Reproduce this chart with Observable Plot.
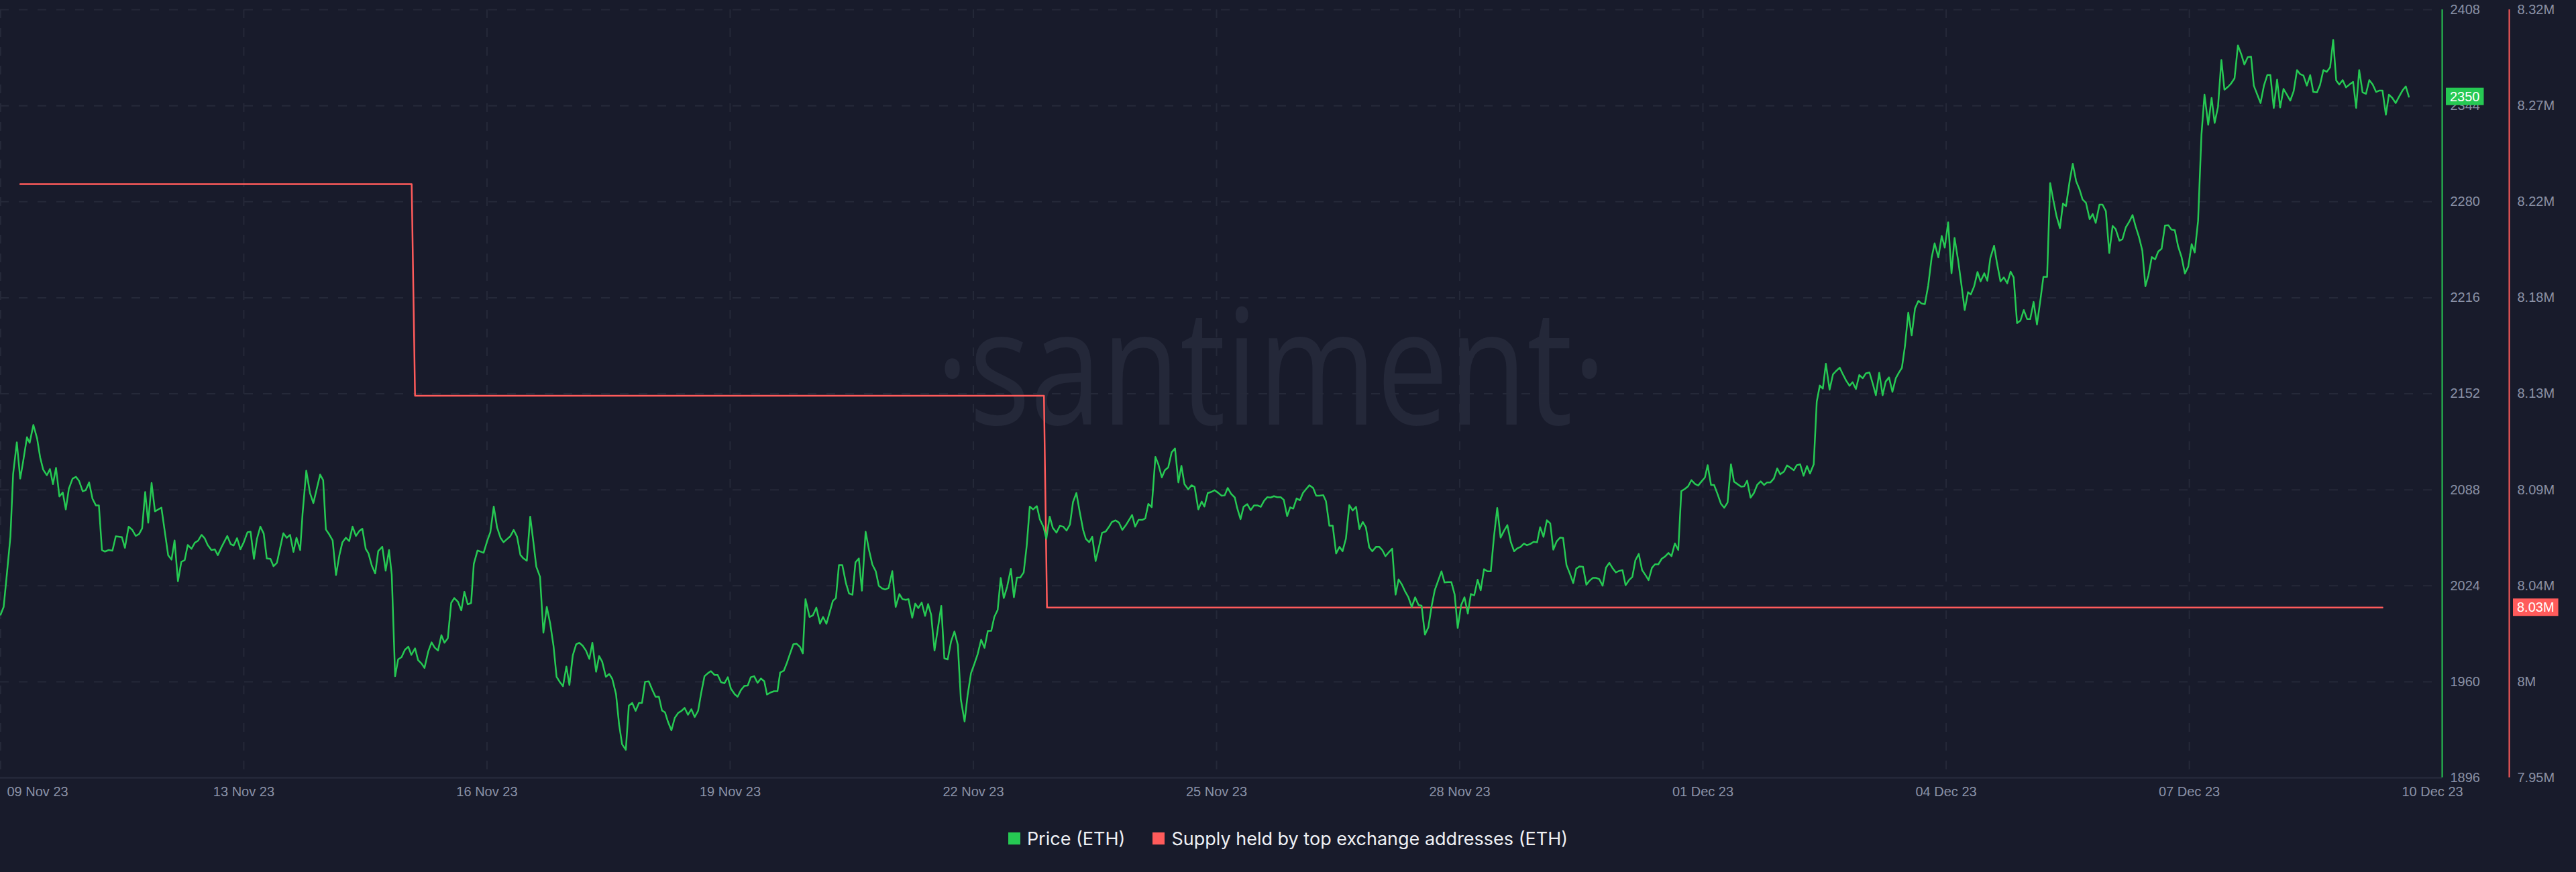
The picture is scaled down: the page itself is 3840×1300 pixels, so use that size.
<!DOCTYPE html>
<html><head><meta charset="utf-8">
<script src="https://cdn.jsdelivr.net/npm/d3@7"></script>
<script src="https://cdn.jsdelivr.net/npm/@observablehq/plot@0.6"></script>
<style>
html,body{margin:0;padding:0;background:#181b2b;}
#chart{width:3840px;height:1210px;}
#legend{display:flex;justify-content:center;align-items:center;height:80px;font-family:Inter,"Noto Sans",sans-serif;font-size:27px;color:#eef0f4;}
.item{display:flex;align-items:center;}
.item + .item{margin-left:41px;}
.sw{width:18px;height:18px;margin-right:10px;}
</style></head><body>
<div id="chart"></div><div id="legend"></div>
<script>
// ---- data ----
const startDate = Date.UTC(2023, 10, 10, 0, 0); // hour 0
const xDomain = ["2023-11-09T23:55Z", "2023-12-10T02:52Z"];
const priceDomain = [1896, 2408];
const supplyDomain = [7.95e6, 8.32e6];

const priceTicks = [1896, 1960, 2024, 2088, 2152, 2216, 2280, 2344, 2408];
const supplyTicks = [7.95e6, 7.99625e6, 8.0425e6, 8.08875e6, 8.135e6, 8.18125e6, 8.2275e6, 8.27375e6, 8.32e6];
const supplyLabels = ["7.95M", "8M", "8.04M", "8.09M", "8.13M", "8.18M", "8.22M", "8.27M", "8.32M"];

const dateTicks = ["2023-11-10", "2023-11-13", "2023-11-16", "2023-11-19", "2023-11-22", "2023-11-25", "2023-11-28", "2023-12-01", "2023-12-04", "2023-12-07", "2023-12-10"];
const dateLabels = ["09 Nov 23", "13 Nov 23", "16 Nov 23", "19 Nov 23", "22 Nov 23", "25 Nov 23", "28 Nov 23", "01 Dec 23", "04 Dec 23", "07 Dec 23", "10 Dec 23"];
const gridDates = ["2023-11-10", "2023-11-13", "2023-11-16", "2023-11-19", "2023-11-22", "2023-11-25", "2023-11-28", "2023-12-01", "2023-12-04", "2023-12-07"];

const priceHour = [
0,0.9,1.9,2.9,3.7,4.8,5.8,6.6,7.8,8.6,9.7,10.8,11.7,12.6,13.7,14.6,15.5,16.4,17.4,18.4,19.3,20.2,21.3,22.3,23.2,24.3,25.2,26.2,27.2,28.2,29.1,
30.0,30.9,32.0,33.1,34.1,35.9,36.8,37.9,39.0,40.0,41.0,41.9,42.8,43.7,44.7,45.7,47.6,49.6,50.6,51.5,52.5,53.5,54.5,55.4,56.5,57.5,58.5,59.5,
60.4,61.3,62.4,63.4,64.3,65.3,67.1,68.1,69.0,70.0,71.0,72.0,73.1,74.0,75.0,75.9,76.9,77.9,78.8,79.9,80.8,81.8,83.7,84.7,85.7,86.7,87.6,88.7,89.4,
90.5,91.6,92.6,94.6,95.5,96.3,97.3,98.3,99.3,100.3,101.2,102.2,103.2,104.2,105.2,106.2,107.1,108.1,108.9,109.9,110.9,111.8,113.0,114.0,115.0,115.8,
116.8,117.7,118.7,119.7,120.7,121.6,122.7,
123.6,124.6,125.5,126.6,127.6,128.5,129.5,130.5,131.4,132.4,133.4,134.3,135.4,136.4,137.3,138.3,139.3,140.1,141.2,143.0,144.1,145.0,146.0,147.0,148.0,
148.9,149.9,150.9,151.9,152.9,153.9,154.8,155.8,156.8,157.7,158.6,159.7,160.7,161.7,162.7,163.7,164.6,165.6,166.5,167.5,168.4,169.4,170.4,171.3,172.3,
173.3,174.3,175.2,176.3,177.2,178.1,179.2,180.2,181.1,182.2,183.1,184.0,185.1,186.0,187.0,188.0,189.0,189.9,190.8,191.9,192.9,193.9,194.9,195.8,196.7,
197.6,198.6,199.6,200.6,201.6,202.5,203.5,204.5,205.5,206.5,207.4,208.4,209.4,210.3,211.4,212.3,213.3,214.3,215.3,216.2,217.3,218.2,219.2,220.2,221.2,
222.1,223.1,224.1,225.1,226.1,226.9,228.0,229.0,230.0,230.8,231.9,232.8,233.7,234.7,235.7,236.7,237.5,
238.3,239.5,240.5,241.5,242.6,243.5,244.5,246.4,247.3,248.2,249.2,250.3,251.2,252.2,253.1,254.1,255.0,256.1,257.1,258.1,259.1,260.0,261.0,261.9,262.9,
264.0,265.0,266.1,267.0,268.0,268.8,269.9,270.8,271.7,272.7,273.7,274.6,275.5,276.5,277.5,278.5,279.4,280.4,281.4,282.4,283.4,284.3,285.4,286.3,287.3,
288.3,289.3,290.3,291.3,292.3,293.3,294.2,295.2,296.1,297.0,298.0,299.1,300.0,300.9,301.9,302.9,303.8,304.7,305.7,306.8,307.7,308.8,309.6,310.6,311.5,
312.6,313.6,314.6,315.6,316.6,317.5,318.5,319.5,320.5,321.3,322.3,323.2,324.2,325.2,326.1,327.2,328.1,329.0,330.1,331.1,332.1,333.1,334.1,335.0,335.9,
336.9,338.0,338.9,339.8,340.8,341.9,342.8,343.8,344.7,345.7,346.7,347.7,348.7,349.6,350.5,351.6,352.6,353.5,354.6,355.6,356.4,357.4,358.4,359.4,360.4,
361.5,362.4,363.3,364.3,365.4,
366.1,367.1,368.0,369.1,370.1,371.1,372.1,373.1,374.1,375.0,376.0,377.0,378.0,379.0,379.9,380.9,381.8,382.7,383.7,384.7,385.6,386.5,387.5,388.6,389.5,
390.4,391.6,392.4,393.4,394.4,395.4,396.4,397.3,398.3,399.3,400.3,401.3,402.3,403.3,404.2,405.2,406.1,407.2,408.2,409.1,410.0,411.0,412.0,413.0,413.9,
414.9,415.9,416.8,417.8,418.8,419.8,420.7,421.7,422.7,423.7,424.6,425.6,426.6,427.5,428.5,429.5,430.5,431.4,432.4,433.4,434.4,435.3,436.3,437.3,438.2,
439.2,440.2,441.2,442.1,443.1,444.1,445.1,446.1,447.1,448.1,449.0,450.0,451.0,451.9,452.9,453.9,454.9,455.8,456.8,457.8,458.8,459.7,460.7,461.7,462.6,
463.6,464.6,465.6,466.5,467.5,468.5,469.5,470.4,471.4,472.4,473.3,474.3,475.3,476.3,477.2,478.2,479.2,480.2,481.1,482.1,483.1,484.0,485.0,486.0,487.0,487.9,
488.9,489.8,490.8,491.8,492.8,493.8,494.7,495.7,496.7,497.6,498.7,499.6,500.6,501.7,502.6,503.6,504.6,505.4,506.4,507.3,508.3,509.3,510.3,511.3,512.3,
513.2,514.2,515.3,516.2,517.1,518.1,519.1,520.1,521.1,522.1,523.0,524.0,525.0,526.0,526.9,528.0,528.9,529.9,530.9,531.8,532.8,533.8,534.8,535.7,536.8,
537.7,538.6,539.5,540.4,541.5,542.5,543.4,544.5,545.4,546.4,547.4,548.3,549.3,550.3,551.3,552.2,553.3,554.3,555.2,556.2,557.2,558.1,559.1,560.1,561.1,
562.0,562.9,563.8,564.8,565.8,566.8,567.8,568.7,569.7,570.7,571.7,572.6,573.7,574.7,575.6,576.6,577.6,578.5,579.6,580.5,581.5,582.5,583.3,584.3,585.3,
586.2,587.3,588.2,589.1,590.2,591.1,592.1,593.1,594.1,595.1,596.0,597.0,598.0,599.0,600.0,600.9,601.9,602.9,603.9,604.8,605.9,606.8,607.7,
608.7,609.7,610.6,611.5,612.6,613.5,614.5,615.5,616.4,617.4,618.5,619.4,620.3,621.4,622.3,623.3,624.3,625.3,626.2,627.3,628.2,629.2,630.2,631.2,632.1,
633.1,634.1,635.0,635.9,636.9,637.9,638.8,639.8,640.8,641.8,642.7,643.7,644.7,645.7,646.7,647.7,648.7,649.6,650.6,651.6,652.5,653.6,654.6,655.5,656.5,
657.5,658.4,659.5,660.4,661.4,662.4,663.4,664.3,665.3,666.3,667.1,668.2,669.1,670.1,671.1,672.0,673.0,674.0,674.9,675.9,676.9,677.9,678.9,679.9,680.8,
681.8,682.8,683.8,684.7,685.8,686.7,687.7,688.7,689.7,690.6,691.5,692.4,693.4,694.4,695.4,696.5,697.4,698.3,699.3,700.3,701.3,702.3,703.3,704.2,705.2,
706.2,707.1,708.1,709.1,710.1,711.1,712.1,713.0
];
const priceValue = [
2004.7,2009.9,2032.9,2056.7,2098.4,2119.6,2095.4,2105.9,2123.0,2119.3,2131.2,2122.2,2109.6,2101.4,2097.7,2101.8,2091.7,2102.6,2083.5,2086.2,2074.9,2088.7,2095.4,2096.6,2094.0,2087.0,2087.7,2092.9,2082.0,2077.6,2077.6,
2047.8,2046.8,2047.8,2047.4,2057.0,2056.4,2049.3,2063.4,2061.2,2057.2,2058.5,2062.3,2086.5,2066.0,2092.5,2073.6,2076.1,2044.4,2041.4,2054.2,2027.0,2039.9,2041.1,2051.2,2048.6,2052.7,2054.1,2057.9,
2055.7,2051.2,2047.8,2048.3,2044.4,2049.3,2057.2,2051.8,2050.8,2055.7,2048.3,2053.0,2059.7,2060.0,2041.9,2055.3,2063.4,2058.7,2042.2,2041.9,2037.0,2039.3,2059.0,2056.0,2057.9,2046.6,2056.0,2047.8,2072.1,
2100.7,2085.8,2079.1,2098.1,2094.4,2061.5,2058.2,2054.2,2031.1,2044.4,2053.0,2056.0,2053.8,2063.4,2057.2,2060.5,2062.0,2048.6,2045.6,2037.4,2032.2,2047.1,2050.0,2034.1,2047.8,2031.4,
1963.7,1974.9,1976.4,1981.3,1983.4,1977.9,1982.3,
1974.4,1972.2,1969.2,1980.1,1986.3,1982.8,1980.8,1991.0,1986.0,1989.0,2012.5,2015.8,2013.3,2007.6,2020.0,2011.6,2012.5,2038.6,2047.5,2046.0,2054.1,2059.7,2076.8,2062.7,2056.0,
2053.0,2055.0,2057.0,2061.2,2056.7,2044.5,2042.2,2040.7,2070.1,2053.8,2036.7,2030.0,1992.7,2009.9,1999.0,1983.8,1963.3,1959.7,1957.0,1970.1,1957.8,1977.6,1984.9,1986.0,1984.1,
1980.8,1975.2,1986.0,1966.7,1977.1,1973.4,1963.3,1965.2,1961.9,1951.8,1931.7,1918.3,1914.6,1944.1,1945.9,1940.6,1945.9,1945.9,1960.0,1960.3,1954.8,1950.0,1950.0,1940.9,1939.6,
1933.2,1927.6,1935.9,1939.2,1940.6,1942.6,1938.0,1941.7,1936.5,1940.6,1952.3,1963.7,1965.7,1967.1,1964.5,1964.5,1959.7,1959.0,1963.0,1955.5,1951.8,1950.0,1954.5,1957.3,1957.5,
1963.0,1963.7,1959.3,1962.2,1960.3,1951.5,1952.9,1953.7,1953.7,1966.2,1967.4,1972.6,1978.6,1985.0,1985.3,1983.1,1978.9,
2015.1,2003.2,2004.3,2009.4,1998.7,2003.2,1998.7,2013.9,2015.8,2037.7,2037.7,2025.5,2018.8,2018.0,2039.6,2042.2,2020.7,2060.0,2047.8,2038.1,2033.7,2024.0,2022.2,2021.5,2022.5,
2033.7,2009.9,2018.5,2015.1,2014.6,2015.1,2002.7,2012.1,2009.1,2012.8,2003.9,2011.8,2004.7,1980.8,1995.7,2010.6,1975.6,1974.9,1986.8,1993.5,1984.6,1948.1,1933.5,1951.1,1965.7,
1971.9,1978.6,1988.0,1982.6,1993.9,1993.9,2003.2,2007.9,2029.2,2015.8,2023.3,2035.2,2016.3,2029.5,2029.5,2032.9,2050.8,2076.8,2074.9,2077.1,2068.2,2063.0,2055.3,2070.1,2062.7,
2059.4,2063.9,2063.4,2060.8,2064.9,2079.8,2085.8,2073.1,2061.2,2055.3,2053.0,2056.7,2040.4,2050.0,2059.3,2060.2,2063.1,2066.4,2067.6,2066.1,2061.2,2064.2,2067.9,2071.2,2063.4,
2067.9,2067.9,2068.9,2078.6,2076.4,2109.9,2104.7,2096.2,2101.0,2102.9,2112.9,2115.5,2092.9,2103.9,2091.7,2088.3,2091.0,2089.9,2074.9,2080.1,2076.8,2085.8,2086.5,2087.7,2086.1,
2084.0,2084.3,2089.2,2085.3,2082.8,
2075.9,2068.4,2076.6,2078.4,2074.4,2077.6,2077.6,2076.6,2080.7,2083.0,2082.8,2083.7,2083.0,2083.0,2081.3,2070.4,2076.3,2075.4,2082.2,2081.0,2085.9,2088.4,2091.0,2089.2,2084.0,
2084.0,2084.4,2080.3,2064.0,2064.0,2045.5,2049.9,2047.0,2055.4,2077.8,2074.1,2076.6,2061.8,2066.5,2063.0,2049.6,2047.0,2049.9,2049.9,2047.7,2043.7,2046.3,2048.7,2018.1,2028.2,
2024.7,2019.9,2016.3,2009.9,2016.3,2011.1,2010.7,1991.4,1996.3,2010.7,2021.0,2027.3,2033.6,2026.2,2026.5,2026.5,2018.1,1995.8,2011.0,2016.3,2005.5,2018.5,2017.6,2028.0,2021.0,
2035.1,2033.6,2033.6,2055.9,2075.9,2056.1,2060.6,2064.4,2053.3,2047.0,2048.9,2049.9,2052.1,2051.0,2051.9,2053.3,2052.9,2063.0,2056.6,2067.7,2065.5,2048.0,2053.6,2056.1,2055.9,
2037.8,2032.1,2025.8,2035.4,2036.9,2036.6,2024.7,2027.3,2029.2,2029.2,2028.4,2024.0,2036.1,2039.3,2035.9,2032.9,2033.9,2034.4,2024.3,2027.7,2029.9,2041.0,2045.2,2034.4,2031.1,2027.7,
2035.9,2038.3,2038.3,2042.0,2043.5,2045.9,2043.7,2052.2,2047.8,2087.1,2088.6,2090.3,2094.4,2091.8,2090.8,2093.6,2096.2,2104.4,2091.2,2091.2,2085.3,2078.8,2076.0,2079.5,2104.9,
2093.4,2091.8,2090.1,2090.3,2094.0,2082.7,2085.8,2091.4,2093.6,2091.2,2092.9,2092.9,2095.5,2102.2,2098.3,2100.1,2104.2,2102.7,2101.0,2104.4,2104.9,2097.3,2103.8,2098.8,2104.9,
2146.7,2157.5,2155.4,2172.0,2154.7,2164.9,2167.1,2169.4,2165.1,2160.8,2157.3,2159.7,2155.1,2164.5,2162.3,2165.5,2166.2,2158.6,2151.0,2166.0,2151.0,2160.1,2162.9,2153.2,2162.3,
2166.0,2169.2,2183.5,2206.1,2190.9,2208.9,2213.9,2212.2,2211.7,2224.1,2242.5,2252.3,2242.9,2257.2,2249.4,2266.3,2232.3,2255.9,2240.3,2225.2,2207.8,2219.7,2218.2,2223.6,2233.2,
2226.9,2232.3,2227.3,2242.5,2250.7,2238.6,2226.9,2229.5,2225.6,2233.4,2229.5,2199.1,2200.7,2207.8,2201.7,2201.7,2213.2,2198.1,2214.3,2229.9,2229.9,2292.4,2281.5,
2270.3,2262.4,2278.8,2277.0,2294.1,2305.3,2293.7,2288.2,2281.5,2279.3,2268.4,2271.8,2265.9,2278.1,2278.1,2273.7,2245.8,2263.9,2261.7,2254.0,2255.0,2262.9,2266.6,2271.1,2263.6,
2256.5,2247.3,2223.7,2230.9,2243.1,2241.6,2246.8,2248.7,2264.1,2264.4,2261.4,2261.1,2250.2,2243.2,2232.1,2236.8,2251.7,2246.2,2267.3,2324.7,2351.4,2331.3,2349.2,2332.5,2343.3,
2374.5,2354.7,2356.7,2358.9,2362.3,2384.2,2378.2,2371.5,2376.4,2376.7,2357.4,2351.0,2345.8,2357.4,2364.5,2364.5,2342.5,2361.4,2342.8,2355.2,2351.4,2347.4,2353.7,2367.8,2365.1,
2364.1,2357.4,2364.4,2353.2,2352.9,2357.8,2367.8,2366.6,2369.7,2387.9,2360.8,2358.1,2361.1,2356.2,2358.1,2359.9,2342.5,2367.8,2352.9,2351.9,2361.1,2358.1,2353.2,2354.1,2354.1,
2338.0,2351.4,2349.2,2345.8,2350.0,2354.1,2356.9,2350.0
];

const supplyHour = [5.8, 121.7, 122.7, 308.9, 309.8, 705.2];
const supplyValue = [8.236e6, 8.236e6, 8.134e6, 8.134e6, 8.032e6, 8.032e6];

// ---- styles ----
const green = "#26c953", red = "#ff5b5b";
const gridColor = "#252939", tickColor = "#8a91a6", axisLineColor = "#262a3b";
const tickFont = "'Liberation Sans', Arial, sans-serif";

// ---- build ----
const toDate = h => new Date(startDate + h * 3600e3);
const supplyToPrice = d3.scaleLinear().domain(supplyDomain).range(priceDomain);
const xEnd = new Date(xDomain[1]);
const xStart = new Date(xDomain[0]);

const priceData = priceHour.map((h, i) => ({date: toDate(h), value: priceValue[i]}));
const supplyData = supplyHour.map((h, i) => ({date: toDate(h), value: supplyToPrice(supplyValue[i])}));

const chart = Plot.plot({
  width: 3840,
  height: 1210,
  marginTop: 14,
  marginBottom: 51,
  marginLeft: 0,
  marginRight: 200,
  style: {background: "transparent", overflow: "visible"},
  x: {type: "utc", domain: xDomain.map(d => new Date(d)), axis: null},
  y: {domain: priceDomain, axis: null},
  marks: [
    Plot.text(["·santiment·"], {text: d => d, frameAnchor: "top-left", dx: 1894, dy: 618, lineAnchor: "bottom", textAnchor: "middle", fontSize: 240, fontWeight: 500, fontFamily: "'Open Sans', sans-serif", fill: "#242839"}),
    Plot.ruleY(priceTicks.slice(1), {y: d => d, stroke: gridColor, strokeWidth: 2, strokeDasharray: "13,15"}),
    Plot.ruleX(gridDates, {x: d => new Date(d), stroke: gridColor, strokeWidth: 2, strokeDasharray: "13,15"}),
    Plot.ruleY([priceDomain[0]], {y: d => d, stroke: axisLineColor, strokeWidth: 2.5}),
    Plot.line(supplyData, {x: "date", y: "value", stroke: red, strokeWidth: 2.5}),
    Plot.line(priceData, {x: "date", y: "value", stroke: green, strokeWidth: 2.5}),
    Plot.ruleX([xEnd], {x: d => d, stroke: green, strokeWidth: 2}),
    Plot.ruleX([xEnd], {x: d => d, dx: 100, stroke: red, strokeWidth: 2}),
    Plot.text(priceTicks, {x: () => xEnd, y: d => d, text: d => String(d), dx: 12, textAnchor: "start", lineAnchor: "middle", fill: tickColor, fontSize: 20, fontFamily: tickFont}),
    Plot.text(supplyTicks, {x: () => xEnd, y: d => supplyToPrice(d), text: (d, i) => supplyLabels[i], dx: 112, textAnchor: "start", lineAnchor: "middle", fill: tickColor, fontSize: 20, fontFamily: tickFont}),
    Plot.text(dateTicks.slice(1), {x: d => new Date(d), y: () => priceDomain[0], text: (d, i) => dateLabels[i + 1], dy: 21, lineAnchor: "middle", textAnchor: "middle", fill: tickColor, fontSize: 20, fontFamily: tickFont}),
    Plot.text([dateLabels[0]], {x: () => xStart, y: () => priceDomain[0], text: d => d, dx: 10, dy: 21, lineAnchor: "middle", textAnchor: "start", fill: tickColor, fontSize: 20, fontFamily: tickFont})
  ]
});
document.getElementById("chart").append(chart);

// watermark compression
const svg = d3.select(chart);
svg.selectAll("text").filter(function() { return this.textContent === "·santiment·"; })
  .attr("textLength", 1000).attr("lengthAdjust", "spacingAndGlyphs");

// value badges
const xs = chart.scale("x"), ys = chart.scale("y");
function badge(xPix, yPix, label, color) {
  const g = svg.append("g");
  const t = g.append("text").attr("x", xPix + 6).attr("y", yPix).attr("dy", "0.35em")
    .attr("text-anchor", "start")
    .attr("fill", "#ffffff").attr("font-size", 20).attr("font-family", tickFont).text(label);
  const w = t.node().getComputedTextLength();
  g.insert("rect", "text").attr("x", xPix).attr("y", yPix - 13).attr("width", w + 12).attr("height", 26).attr("fill", color);
}
const lastPrice = priceValue[priceValue.length - 1];
const lastSupply = supplyValue[supplyValue.length - 1];
const xe = xs.apply(xEnd);
badge(xe + 6, ys.apply(lastPrice), String(Math.round(lastPrice)), green);
badge(xe + 106, ys.apply(supplyToPrice(lastSupply)), (lastSupply / 1e6).toFixed(2) + "M", red);

// legend
const legendItems = [
  {label: "Price (ETH)", color: green},
  {label: "Supply held by top exchange addresses (ETH)", color: red}
];
const legend = d3.select("#legend");
legendItems.forEach(it => {
  const item = legend.append("div").attr("class", "item");
  item.append("div").attr("class", "sw").style("background", it.color);
  item.append("span").text(it.label);
});
</script>
</body></html>
